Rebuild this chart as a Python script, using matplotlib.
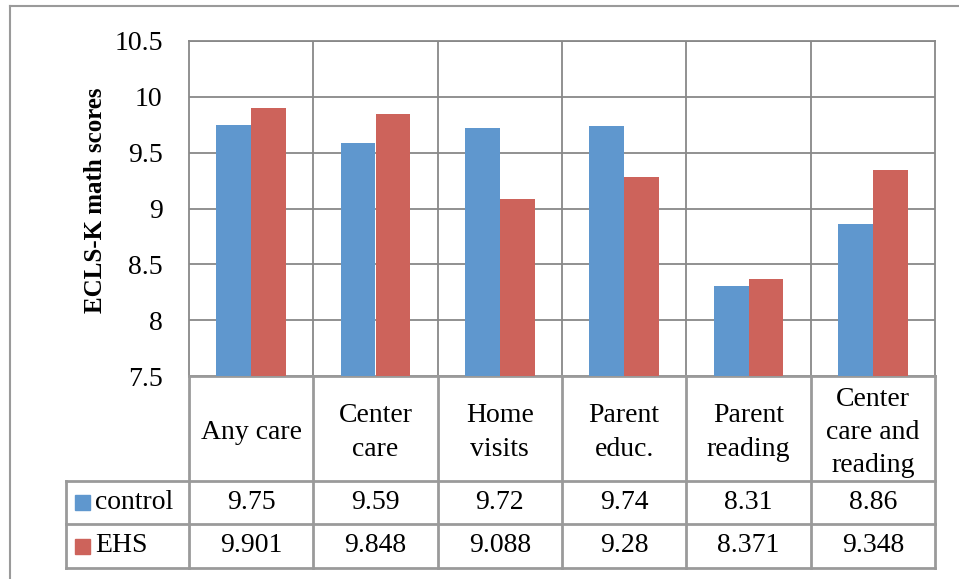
import numpy as np
import matplotlib
matplotlib.use("Agg")
import matplotlib.pyplot as plt
from matplotlib.patches import Rectangle
from matplotlib.lines import Line2D

# ─── Data ─────────────────────────────────────────────────────────────────────
categories = ["Any care", "Center\ncare", "Home\nvisits", "Parent\neduc.",
              "Parent\nreading", "Center\ncare and\nreading"]
control = [9.75, 9.59, 9.72, 9.74, 8.31, 8.86]
ehs = [9.901, 9.848, 9.088, 9.28, 8.371, 9.348]
control_labels = ["9.75", "9.59", "9.72", "9.74", "8.31", "8.86"]
ehs_labels = ["9.901", "9.848", "9.088", "9.28", "8.371", "9.348"]
series_names = ["control", "EHS"]
yticks = [7.5, 8, 8.5, 9, 9.5, 10, 10.5]
ytick_labels = ["7.5", "8", "8.5", "9", "9.5", "10", "10.5"]

# ─── Style ────────────────────────────────────────────────────────────────────
BLUE = "#5F97CE"
RED = "#CD635B"
GRID = "#888888"
BORDER = "#9A9A9A"
FS = 20
plt.rcParams["font.family"] = ["Liberation Serif", "DejaVu Serif"]

W, H = 959, 579
fig = plt.figure(figsize=(W / 100, H / 100), dpi=100)


def fx(px):
    return px / W


def fy(py):
    return 1 - py / H


# pixel layout
x_left, x_right = 189, 935
y_top, y_bot = 41, 376
tab_left, tab_bot = 66, 568
row1, row2 = 481, 524

ax = fig.add_axes([fx(x_left), fy(y_bot), fx(x_right - x_left), (y_bot - y_top) / H])
n = len(categories)
x = np.arange(n) + 0.5
bw = 0.28
ax.bar(x - bw / 2, control, width=bw, color=BLUE, zorder=3)
ax.bar(x + bw / 2, ehs, width=bw, color=RED, zorder=3)
ax.set_xlim(0, n)
ax.set_ylim(7.5, 10.5)
ax.set_yticks(yticks)
ax.set_yticklabels(ytick_labels, fontsize=FS)
ax.tick_params(axis="y", length=0, pad=19)
ax.set_xticks([])
ax.yaxis.grid(True, color=GRID, linewidth=1.3, zorder=0)
for i in range(1, n):
    ax.axvline(i, color=GRID, linewidth=1.3, zorder=0)
for s in ax.spines.values():
    s.set_color(GRID)
    s.set_linewidth(1.3)
ax.spines["bottom"].set_color(BORDER)
ax.spines["bottom"].set_linewidth(2)

fig.text(fx(96), fy(200), "ECLS-K math scores", rotation=90, fontsize=18,
         fontweight="bold", ha="center", va="center")

# ─── Data table ───────────────────────────────────────────────────────────────
unit = (x_right - x_left) / n
tx0 = -(x_left - tab_left) / unit
tax = fig.add_axes([fx(tab_left), fy(tab_bot), fx(x_right - tab_left), (tab_bot - y_bot) / H])
tax.set_xlim(tx0, n)
tax.set_ylim(tab_bot, y_bot)
tax.axis("off")

lw = 2
for yy in (row1, row2, tab_bot):
    tax.add_line(Line2D([tx0, n], [yy, yy], color=BORDER, linewidth=lw, clip_on=False))
for i in range(n + 1):
    tax.add_line(Line2D([i, i], [y_bot, tab_bot], color=BORDER, linewidth=lw, clip_on=False))
tax.add_line(Line2D([tx0, tx0], [row1, tab_bot], color=BORDER, linewidth=lw, clip_on=False))

for i, c in enumerate(categories):
    tax.text(i + 0.5, (y_bot + row1) / 2 + 4, c, ha="center", va="center",
             fontsize=FS, linespacing=1.43)
for i in range(n):
    tax.text(i + 0.5, (row1 + row2) / 2, control_labels[i], ha="center",
             va="center", fontsize=FS)
    tax.text(i + 0.5, (row2 + tab_bot) / 2, ehs_labels[i], ha="center",
             va="center", fontsize=FS)

sq = 15 / unit
for name, col, (ra, rb) in zip(series_names, [BLUE, RED],
                               [(row1, row2), (row2, tab_bot)]):
    yc = (ra + rb) / 2
    tax.add_patch(Rectangle((tx0 + 9 / unit, yc - 7.5), sq, 15, color=col,
                            clip_on=False))
    tax.text(tx0 + 29 / unit, yc, name, ha="left", va="center", fontsize=FS)

# ─── Outer chart frame ────────────────────────────────────────────────────────
fig.add_artist(Line2D([fx(10), fx(959)], [fy(6), fy(6)], color=BORDER, linewidth=1.5))
fig.add_artist(Line2D([fx(10), fx(10)], [fy(6), 0], color=BORDER, linewidth=1.5))

fig.savefig("out.png", dpi=100)
